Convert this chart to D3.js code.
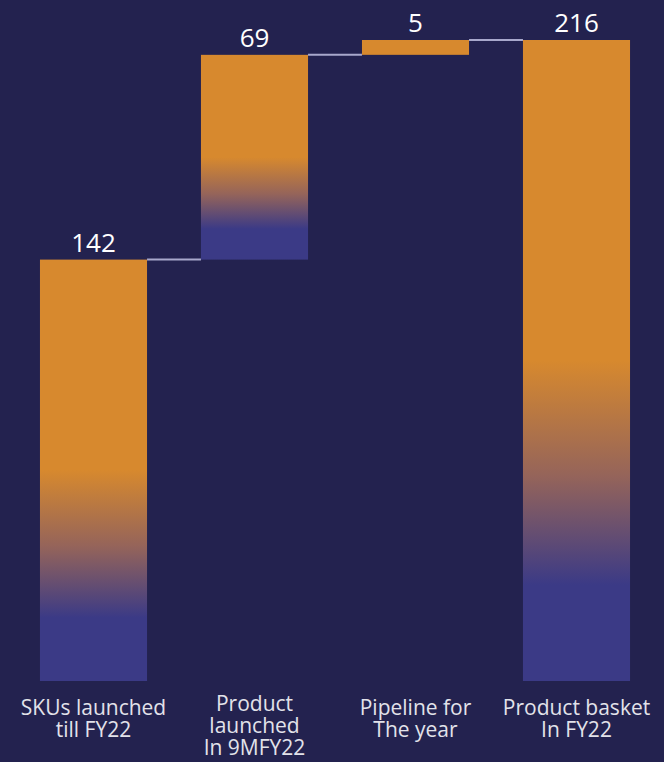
<!DOCTYPE html>
<html>
<head>
<meta charset="utf-8">
<script src="https://cdn.jsdelivr.net/npm/d3@7"></script>
<style>
  html, body { margin: 0; padding: 0; background: #23224f; }
  svg { display: block; }
</style>
</head>
<body>
<svg id="chart"></svg>
<script>
(function(){
    var width = 664, height = 762

    // data
    let categories = ["SKUs launched|till FY22", "Product|launched|In 9MFY22", "Pipeline for|The year", "Product basket|In FY22"]
    let values = [142, 69, 5, 216]
    let isTotal = [false, false, false, true]

    // waterfall start / end
    let running = 0
    let data = categories.map((c, i) => {
        let start = isTotal[i] ? 0 : running
        let end = isTotal[i] ? values[i] : running + values[i]
        running = end
        return {label: c, value: values[i], start: start, end: end}
    })

    var svg = d3.select("svg#chart")
        .attr("width", width)
        .attr("height", height)

    let defs = svg.append("defs")
    let grad = defs.append("linearGradient")
        .attr("id", "barGrad")
        .attr("x1", 0).attr("y1", 0)
        .attr("x2", 0).attr("y2", 1)
    grad.append("stop").attr("offset", "0").attr("stop-color", "#d7892e")
    grad.append("stop").attr("offset", "0.5").attr("stop-color", "#d7892e")
    grad.append("stop").attr("offset", "0.68").attr("stop-color", "#95645a")
    grad.append("stop").attr("offset", "0.85").attr("stop-color", "#3b3a86")
    grad.append("stop").attr("offset", "1").attr("stop-color", "#3b3a86")

    let xScale = d3.scaleBand()
        .domain(categories)
        .range([13, 657])
        .paddingInner(0.335)
        .paddingOuter(0.1675)

    let yScale = d3.scaleLinear()
        .domain([0, 216])
        .range([681, 40])

    // connectors
    svg.selectAll("line.conn")
        .data(data.slice(0, -1))
        .enter()
        .append("line")
            .attr("class", "conn")
            .attr("x1", (d) => xScale(d.label) + xScale.bandwidth())
            .attr("x2", (d, i) => xScale(data[i + 1].label))
            .attr("y1", (d) => yScale(d.end))
            .attr("y2", (d) => yScale(d.end))
            .attr("stroke", "#a8a8cc")
            .attr("stroke-width", 2)

    svg.selectAll("rect.bar")
        .data(data)
        .enter()
        .append("rect")
            .attr("class", "bar")
            .attr("x", (d) => xScale(d.label))
            .attr("y", (d) => yScale(Math.max(d.start, d.end)))
            .attr("width", xScale.bandwidth())
            .attr("height", (d) => Math.abs(yScale(d.start) - yScale(d.end)))
            .attr("fill", (d) => Math.abs(yScale(d.start) - yScale(d.end)) < 40 ? "#d7892e" : "url(#barGrad)")

    // value labels
    svg.selectAll("text.val")
        .data(data)
        .enter()
        .append("text")
            .attr("class", "val")
            .attr("x", (d) => xScale(d.label) + xScale.bandwidth() / 2)
            .attr("y", (d) => yScale(Math.max(d.start, d.end)) - 8)
            .attr("text-anchor", "middle")
            .attr("font-family", "'Open Sans', sans-serif")
            .attr("font-size", "26px")
            .attr("fill", "#ffffff")
            .text((d) => d.value)

    // category labels
    let cat = svg.selectAll("text.cat")
        .data(data)
        .enter()
        .append("text")
            .attr("class", "cat")
            .attr("x", (d) => xScale(d.label) + xScale.bandwidth() / 2)
            .attr("y", (d) => d.label.split("|").length > 2 ? 711 : 715)
            .attr("text-anchor", "middle")
            .attr("font-family", "'Open Sans', sans-serif")
            .attr("font-size", "21px")
            .attr("fill", "#e2e2ea")
    cat.selectAll("tspan")
        .data((d) => d.label.split("|"))
        .enter()
        .append("tspan")
            .attr("x", function(){ return d3.select(this.parentNode).attr("x") })
            .attr("dy", (d, i) => i === 0 ? 0 : 22)
            .text((d) => d)
})()
</script>
</body>
</html>
